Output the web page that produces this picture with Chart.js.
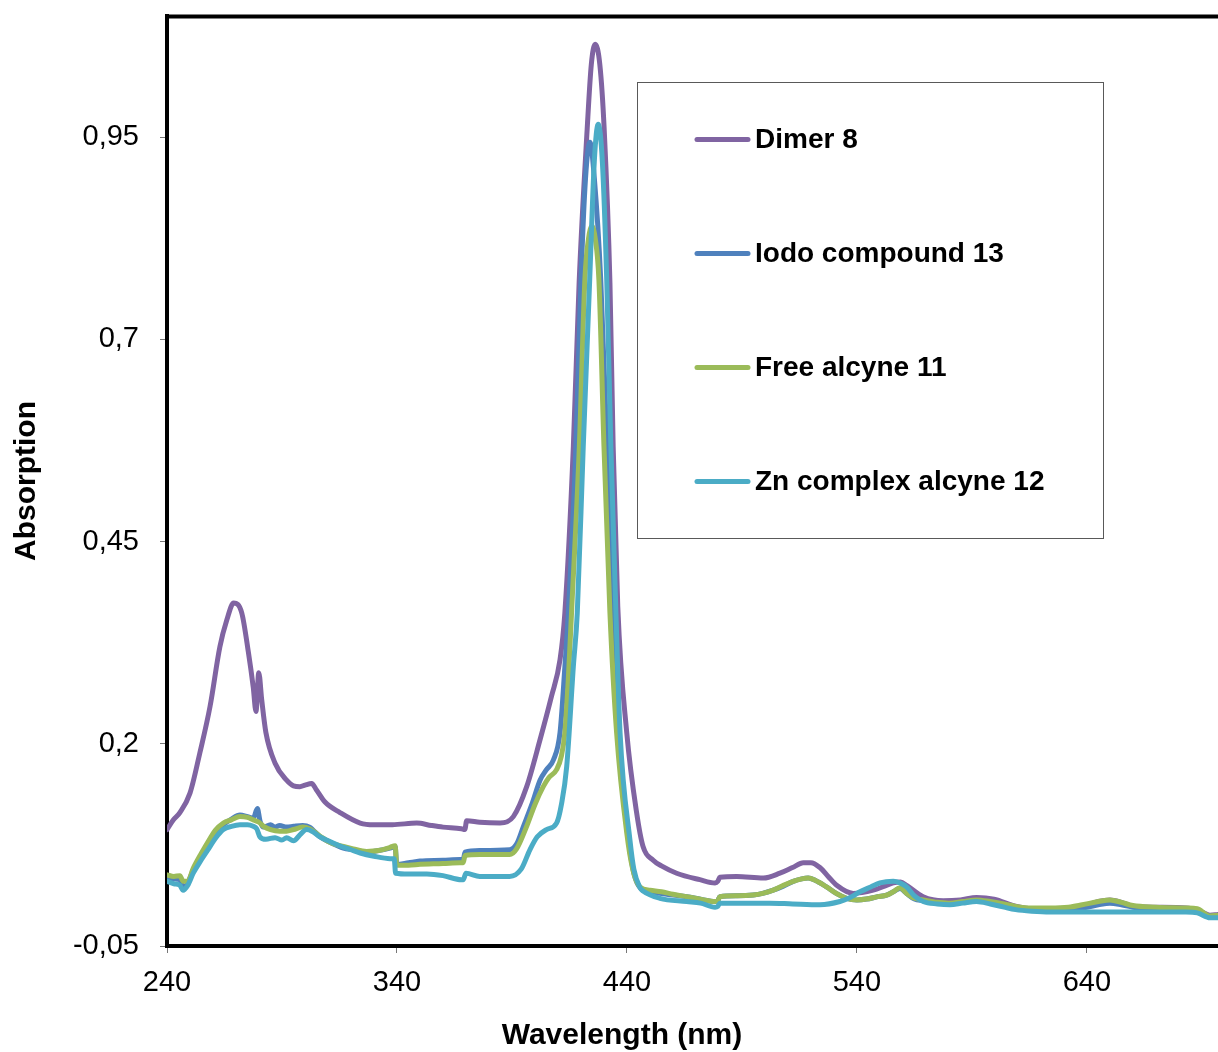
<!DOCTYPE html>
<html><head><meta charset="utf-8">
<script src="https://cdn.jsdelivr.net/npm/chart.js@4/dist/chart.umd.min.js"></script>
<style>html,body{margin:0;padding:0;background:#fff;overflow:hidden}canvas{display:block}</style>
</head><body>
<canvas id="c" width="1218" height="1052"></canvas>
<script>
// ---- data: [wavelength (nm), absorption] ----
const seriesLabels = ['Dimer 8', 'Iodo compound 13', 'Free alcyne 11', 'Zn complex alcyne 12'];
const xTicks = [240, 340, 440, 540, 640];
const yTicks = [-0.05, 0.2, 0.45, 0.7, 0.95];

const dimer8 = [
[240,0.094],[242.8,0.106],[245.6,0.115],[250,0.139],[254.3,0.189],[258.7,0.246],[263,0.32],[266,0.353],[269,0.374],[272.5,0.362],[275.4,0.313],[277.5,0.27],[278.7,0.24],[279.9,0.288],[281.2,0.254],[283,0.214],[287,0.176],[292,0.155],[295,0.148],[297.8,0.147],[300,0.149],[302.9,0.151],[305,0.143],[308.7,0.128],[315.2,0.115],[324,0.102],[330,0.1],[338,0.1],[348.6,0.102],[355,0.099],[360,0.097],[368,0.095],[369.5,0.094],[370.3,0.105],[376,0.103],[384.8,0.102],[390.6,0.11],[396.4,0.147],[402.2,0.205],[407.2,0.259],[410.9,0.304],[413,0.362],[416.7,0.568],[419.2,0.77],[422.7,0.96],[424.5,1.04],[426.2,1.065],[428.2,1.04],[430.1,0.96],[432.6,0.77],[434,0.568],[436,0.37],[439.9,0.214],[444.2,0.115],[447,0.073],[451.4,0.056],[455,0.049],[461.6,0.04],[471.7,0.032],[478.3,0.028],[479.5,0.03],[480.4,0.035],[487.7,0.036],[499.3,0.034],[506.5,0.04],[512,0.047],[516.7,0.053],[520,0.053],[523.9,0.047],[527.5,0.036],[531.2,0.025],[538.4,0.015],[547.1,0.019],[552,0.024],[555.8,0.028],[559,0.029],[561.6,0.025],[568.8,0.011],[577.5,0.006],[585,0.007],[592,0.01],[599.6,0.008],[609.4,-0.001],[623.9,-0.005],[638.4,-0.001],[645,0.005],[650,0.007],[655,0.004],[660,-0.001],[683.3,-0.003],[690,-0.008],[693.5,-0.012],[697,-0.011]
];
const iodo13 = [
[240,0.036],[243,0.033],[245.6,0.032],[247,0.022],[249,0.028],[251.4,0.044],[255,0.062],[258.7,0.081],[261,0.09],[264.5,0.1],[268,0.107],[271.7,0.112],[275,0.11],[277.5,0.108],[279.3,0.12],[280.5,0.104],[282,0.097],[285,0.1],[287,0.097],[289,0.099],[292,0.097],[295,0.098],[299,0.099],[302,0.097],[306.5,0.085],[311,0.078],[316.7,0.071],[321,0.069],[326.8,0.066],[332,0.068],[337,0.071],[339.2,0.073],[339.9,0.051],[345,0.053],[350,0.055],[360,0.056],[367.4,0.057],[368.8,0.057],[369.6,0.066],[376,0.068],[389,0.069],[392,0.076],[395,0.098],[399,0.128],[402.2,0.155],[405,0.168],[408,0.18],[410.9,0.214],[413,0.295],[414.5,0.362],[417.8,0.568],[420,0.774],[422,0.9],[423.9,0.944],[425.8,0.9],[428.6,0.774],[431.3,0.568],[434,0.362],[436.2,0.214],[440.5,0.085],[443,0.04],[446,0.021],[450,0.017],[455,0.015],[460,0.013],[466,0.011],[472,0.008],[478.3,0.005],[479.5,0.006],[480.4,0.011],[488,0.012],[494.9,0.013],[499,0.015],[503.6,0.019],[508,0.024],[512.3,0.03],[516,0.033],[518.8,0.034],[522,0.031],[526.8,0.023],[531,0.015],[535.5,0.009],[540,0.007],[544.2,0.008],[549,0.011],[552.9,0.013],[555.8,0.017],[558.7,0.021],[561.6,0.015],[565,0.008],[568.8,0.006],[575,0.003],[580,0.002],[586,0.004],[592,0.006],[598,0.005],[604,0.001],[609,-0.003],[616,-0.005],[624,-0.006],[632,-0.005],[640,-0.002],[645,0.001],[650,0.003],[655,0.001],[660,-0.002],[670,-0.004],[683,-0.005],[688,-0.006],[693.5,-0.013],[697,-0.012]
];
const alcyne11 = [
[240,0.038],[243,0.036],[245.6,0.037],[247,0.03],[249,0.03],[251.4,0.046],[255,0.065],[258.7,0.083],[261,0.093],[264.5,0.102],[268,0.106],[271.7,0.11],[275,0.109],[277.5,0.106],[280,0.103],[282,0.098],[285,0.094],[289,0.092],[292,0.092],[295,0.094],[299,0.097],[302,0.095],[306.5,0.086],[311,0.078],[316.7,0.073],[321,0.07],[326.8,0.067],[332,0.068],[337,0.072],[339.2,0.074],[339.9,0.05],[345,0.05],[350,0.051],[360,0.052],[367.4,0.053],[368.8,0.053],[369.6,0.062],[376,0.063],[389,0.063],[392,0.07],[396.4,0.098],[400,0.125],[403.6,0.147],[406,0.158],[409.4,0.168],[411.5,0.185],[413,0.214],[414.5,0.28],[415.9,0.362],[419.3,0.568],[421.7,0.774],[423.3,0.825],[424.8,0.84],[426.2,0.825],[427.8,0.774],[430,0.568],[432.6,0.362],[435.5,0.214],[439.9,0.09],[442.5,0.045],[445.7,0.023],[450,0.019],[455,0.017],[460,0.014],[466,0.011],[472,0.008],[478.3,0.005],[479.5,0.006],[480.4,0.011],[488,0.012],[494.9,0.013],[499,0.015],[503.6,0.019],[508,0.025],[512.3,0.03],[516,0.033],[518.8,0.034],[522,0.031],[526.8,0.023],[531,0.015],[535.5,0.009],[540,0.007],[544.2,0.008],[549,0.011],[552.9,0.013],[555.8,0.017],[558.7,0.022],[561.6,0.015],[565,0.009],[568.8,0.007],[575,0.004],[580,0.003],[586,0.005],[592,0.007],[598,0.005],[604,0.002],[609,-0.001],[616,-0.003],[624,-0.003],[632,-0.002],[638,0.001],[645,0.005],[650,0.007],[655,0.004],[660,0],[670,-0.002],[683,-0.003],[688,-0.004],[693.5,-0.013],[697,-0.012]
];
const zn12 = [
[240,0.03],[243,0.027],[245.6,0.025],[247,0.019],[249,0.025],[251.4,0.04],[255,0.057],[258.7,0.073],[261,0.083],[264.5,0.094],[268,0.098],[271.7,0.1],[275,0.1],[277.5,0.098],[279,0.095],[280.4,0.085],[283,0.082],[287,0.084],[290,0.081],[292,0.084],[295,0.08],[298,0.088],[300.7,0.094],[303,0.092],[306,0.086],[309.4,0.081],[315,0.074],[320,0.069],[324,0.065],[330,0.061],[337,0.058],[338.8,0.058],[339.4,0.04],[345,0.039],[353,0.039],[360,0.037],[368,0.032],[368.8,0.032],[370,0.04],[376,0.036],[389,0.036],[394,0.045],[397.8,0.069],[401,0.085],[405,0.094],[409.4,0.102],[411.5,0.125],[413.8,0.172],[416.7,0.296],[418.4,0.362],[421,0.568],[423.8,0.774],[425.8,0.92],[427.5,0.966],[429.3,0.92],[431.2,0.774],[433,0.568],[435.2,0.362],[437,0.214],[441.3,0.081],[443,0.045],[445.7,0.022],[447,0.018],[454.3,0.009],[466,0.005],[472,0.003],[478.3,-0.002],[479.5,-0.001],[480.4,0.003],[490,0.003],[502,0.003],[512,0.002],[523.9,0.001],[532.6,0.005],[537,0.01],[541.3,0.017],[546,0.023],[550,0.028],[555.8,0.03],[558.7,0.028],[561.6,0.023],[565,0.012],[568.8,0.005],[575,0.002],[580.4,0.001],[586,0.003],[592,0.005],[598,0.002],[604,-0.002],[609,-0.005],[616,-0.007],[624,-0.008],[645,-0.008],[660,-0.008],[683,-0.008],[688,-0.009],[693.5,-0.015],[697,-0.015]
];

// ---- styles ----
const seriesData = [dimer8, iodo13, alcyne11, zn12];
const seriesColors = ['#8064A2', '#4F81BD', '#9BBB59', '#4BACC6'];
const FONT = '"Liberation Sans", Arial, Helvetica, sans-serif';

const datasets = seriesData.map((arr, i) => ({
  label: seriesLabels[i],
  data: arr.map(p => ({x: p[0], y: p[1]})),
  borderColor: seriesColors[i],
  backgroundColor: seriesColors[i],
  borderWidth: 5,
  pointRadius: 0,
  fill: false,
  cubicInterpolationMode: 'monotone',
  borderJoinStyle: 'round',
  borderCapStyle: 'round',
  order: seriesData.length - 1 - i
}));

const decor = {
  id: 'decor',
  afterDatasetsDraw(chart) {
    const {ctx, chartArea: a} = chart;
    ctx.save();
    // top frame line
    ctx.strokeStyle = '#000'; ctx.lineWidth = 4;
    ctx.beginPath(); ctx.moveTo(a.left - 2, a.top + 0.5); ctx.lineTo(chart.width, a.top + 0.5); ctx.stroke();
    // legend box
    ctx.fillStyle = '#fff'; ctx.fillRect(637.5, 82.5, 466, 456);
    ctx.strokeStyle = '#595959'; ctx.lineWidth = 1; ctx.strokeRect(637.5, 82.5, 466, 456);
    chart.data.datasets.forEach((ds, i) => {
      const y = 139.5 + i * 114;
      ctx.strokeStyle = ds.borderColor; ctx.lineWidth = 5; ctx.lineCap = 'round';
      ctx.beginPath(); ctx.moveTo(697, y); ctx.lineTo(748, y); ctx.stroke();
      ctx.fillStyle = '#000'; ctx.font = 'bold 28px ' + FONT;
      ctx.textBaseline = 'middle'; ctx.textAlign = 'left';
      ctx.fillText(ds.label, 755, y + 1);
    });
    // x-axis title
    ctx.fillStyle = '#000'; ctx.font = 'bold 30px ' + FONT;
    ctx.textAlign = 'center'; ctx.textBaseline = 'middle';
    ctx.fillText('Wavelength (nm)', 622, 1036);
    ctx.restore();
  }
};

new Chart(document.getElementById('c'), {
  type: 'line',
  data: {datasets},
  options: {
    responsive: false,
    devicePixelRatio: 1,
    animation: false,
    events: [],
    layout: {padding: {top: 16, right: 0, bottom: 0, left: 0}},
    plugins: {legend: {display: false}, tooltip: {enabled: false}},
    scales: {
      x: {
        type: 'linear', min: 240, max: 697,
        afterFit(s) { s.height = 106; s.paddingLeft = 0; s.paddingRight = 0; },
        afterBuildTicks(s) { s.ticks = xTicks.map(v => ({value: v})); },
        grid: {display: true, drawOnChartArea: false, drawTicks: true, tickLength: 7, color: '#777', lineWidth: 1},
        border: {display: true, color: '#000', width: 4},
        ticks: {autoSkip: false, maxRotation: 0, padding: 13, color: '#000', font: {family: FONT, size: 29}}
      },
      y: {
        type: 'linear', min: -0.05, max: 1.1,
        afterFit(s) { s.width = 167; s.paddingTop = 0; s.paddingBottom = 0; },
        afterBuildTicks(s) { s.ticks = yTicks.map(v => ({value: v})); },
        grid: {display: true, drawOnChartArea: false, drawTicks: true, tickLength: 7, color: '#777', lineWidth: 1},
        border: {display: true, color: '#000', width: 4},
        ticks: {autoSkip: false, padding: 21, color: '#000', font: {family: FONT, size: 29},
          callback: v => String(v).replace('.', ',')},
        title: {display: true, text: 'Absorption', color: '#000',
          font: {family: FONT, size: 30, weight: 'bold', lineHeight: 1}, padding: {top: 12, bottom: 0}}
      }
    }
  },
  plugins: [decor]
});
</script>
</body></html>
